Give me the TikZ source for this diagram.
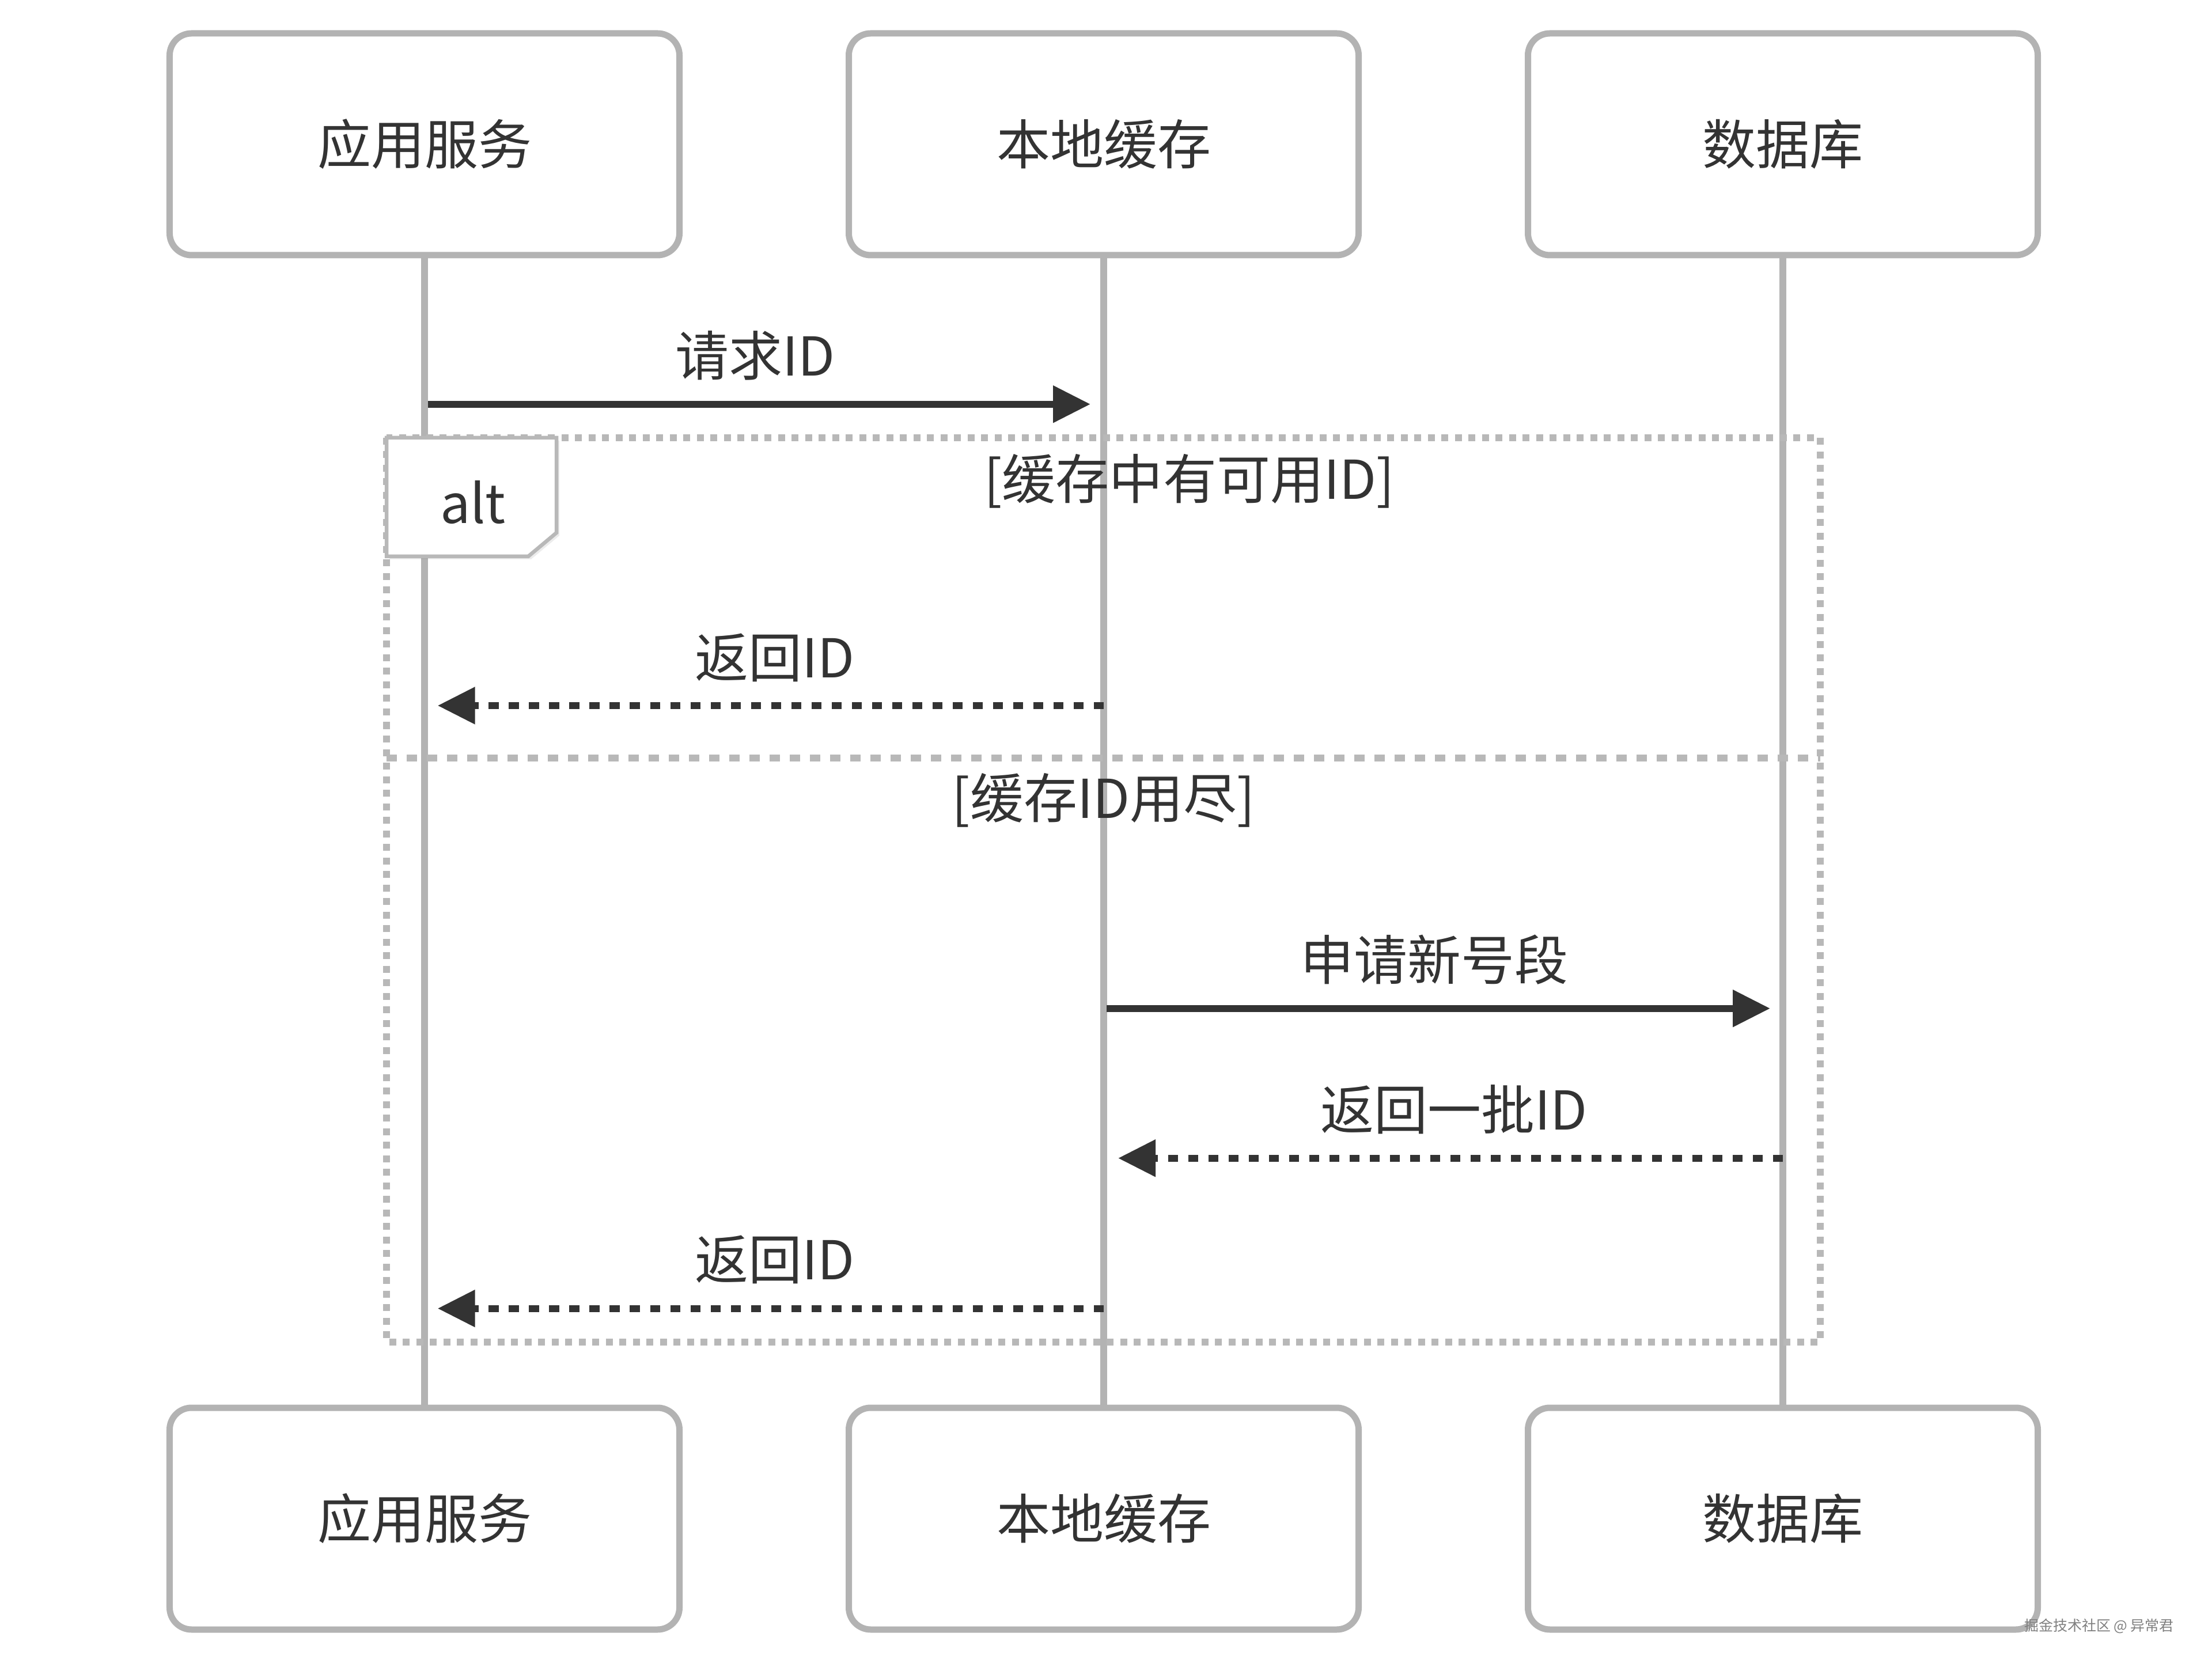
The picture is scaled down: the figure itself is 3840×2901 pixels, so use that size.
\documentclass[tikz,border=0pt]{standalone}
\usepackage{fontspec}
\setmainfont{Noto Sans CJK SC}
\usetikzlibrary{arrows.meta,shadows}
\definecolor{ink}{HTML}{333333}
\definecolor{lifegray}{HTML}{B3B3B3}
\definecolor{framegray}{HTML}{B8B8B8}

\begin{document}
\begin{tikzpicture}[x=0.2pt,y=-0.2pt,
  font=\fontsize{18.6pt}{22pt}\selectfont,
  actor/.style={draw=lifegray, line width=2.2pt, rounded corners=7.6pt, fill=white,
    minimum width=177pt, minimum height=77pt, text=ink, inner sep=0pt},
  lifeline/.style={lifegray, line width=2.3pt},
  msg/.style={ink, line width=2.4pt, -{Triangle[length=13pt,width=12.4pt]}},
  reply/.style={msg, dash pattern=on 3.5pt off 3.5pt},
  altframe/.style={framegray, line width=2.4pt, dash pattern=on 2.4pt off 2.3pt},
  divider/.style={framegray, line width=2.4pt, dash pattern=on 3.5pt off 3.5pt},
  label/.style={text=ink, inner sep=0pt}]
\useasboundingbox (0,0) rectangle (3840,2901);

% participants
\node[actor] (app) at (737,250.5) {应用服务};
\node[actor] (cache) at (1916,250.5) {本地缓存};
\node[actor] (db) at (3095,250.5) {数据库};
\node[actor] (appb) at (737,2636.5) {应用服务};
\node[actor] (cacheb) at (1916,2636.5) {本地缓存};
\node[actor] (dbb) at (3095,2636.5) {数据库};

\draw[lifeline] (app) -- (appb);
\draw[lifeline] (cache) -- (cacheb);
\draw[lifeline] (db) -- (dbb);

% alt frame
\draw[altframe] (671,760) rectangle (3160,2330);
\draw[divider] (671,1316) -- (3160,1316);
\draw[framegray, line width=1.3pt, fill=white, drop shadow={opacity=0.15,shadow xshift=1pt,shadow yshift=-1pt}]
  (671,760) -- (966,760) -- (966,925) -- (917,966) -- (671,966) -- cycle;
\node[label] (alt) at (821,872) {alt};
\node[label] (guard1) at (2064.6,835.6) {[缓存中有可用ID]};
\node[label] (guard2) at (1916,1389.5) {[缓存ID用尽]};

% messages
\coordinate (ask a) at (742.5,701.7);
\coordinate (ask b) at (1893,701.7);
\draw[msg] (ask a) -- (ask b) node[label, midway, yshift=16.8pt, xshift=-1.3pt] {请求ID};

\coordinate (hit a) at (1916,1225);
\coordinate (hit b) at (759.7,1225);
\draw[reply] (hit a) -- (hit b) node[label, midway, yshift=16.6pt, xshift=1.4pt] {返回ID};

\coordinate (seg a) at (1921,1750.7);
\coordinate (seg b) at (3073,1750.7);
\draw[msg] (seg a) -- (seg b) node[label, midway, yshift=17pt, xshift=-1.4pt] {申请新号段};

\coordinate (batch a) at (3095,2010.7);
\coordinate (batch b) at (1941,2010.7);
\draw[reply] (batch a) -- (batch b) node[label, midway, yshift=17pt, xshift=1.2pt] {返回一批ID};

\coordinate (back a) at (1916,2271.6);
\coordinate (back b) at (759.7,2271.6);
\draw[reply] (back a) -- (back b) node[label, midway, yshift=17pt, xshift=1.4pt] {返回ID};

\node[text=gray, font=\fontsize{5pt}{6pt}\selectfont, inner sep=0pt] (mark) at (3644,2823) {掘金技术社区 @ 异常君};
\end{tikzpicture}
\end{document}
